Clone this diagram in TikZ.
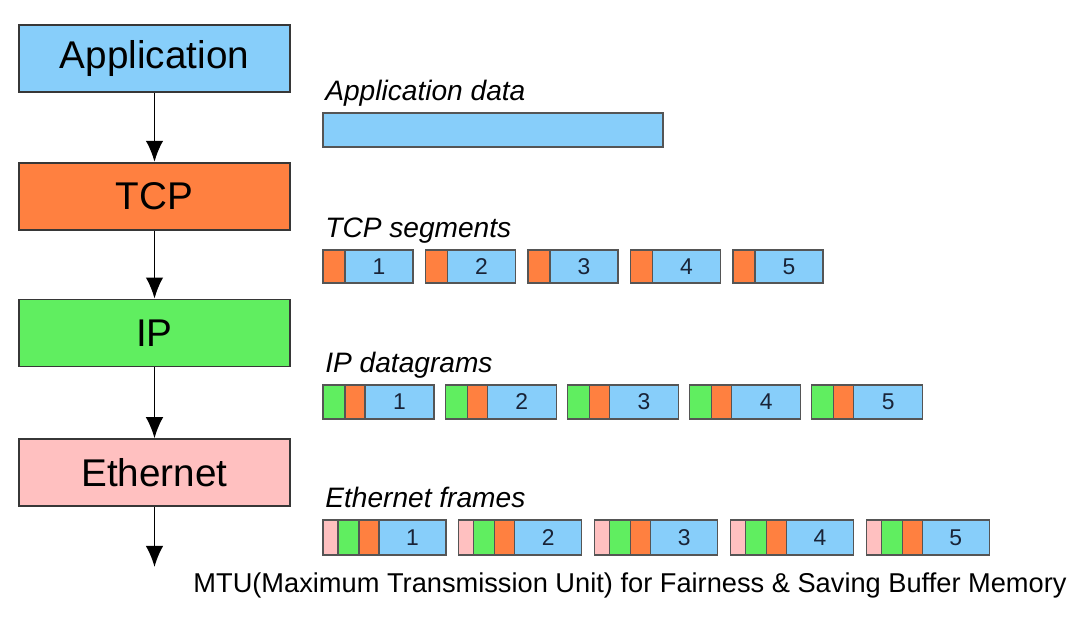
\documentclass[tikz,border=0pt]{standalone}
\usepackage{fontspec}
\setmainfont{Liberation Sans}
\usetikzlibrary{positioning,arrows.meta}
\definecolor{appblue}{RGB}{135,206,250}
\definecolor{tcporange}{RGB}{255,128,64}
\definecolor{ipgreen}{RGB}{96,238,96}
\definecolor{ethpink}{RGB}{255,192,192}
\definecolor{edgegray}{RGB}{55,55,55}
\definecolor{numcolor}{RGB}{25,35,55}
\tikzset{>={Latex[length=12pt,width=10pt]}}
\tikzset{
  layerbox/.style={draw=edgegray, line width=1pt, minimum width=5.42cm,
    minimum height=1.34cm, font=\fontsize{22}{26}\selectfont},
  seg/.style={draw=edgegray!85, line width=0.7pt},
  datalabel/.style={font=\itshape\fontsize{16}{19}\selectfont,
    anchor=base west, inner sep=0pt},
  num/.style={font=\fontsize{13}{15}\selectfont, text=numcolor},
}

\begin{document}
\begin{tikzpicture}[x=0.02cm, y=-0.02cm]
  \useasboundingbox (0,0) rectangle (1082,616);
  % protocol stack
  \node[layerbox, fill=appblue] (app) at (154.5,58.5) {Application};
  \node[layerbox, fill=tcporange, below=1.38cm of app] (tcp) {TCP};
  \node[layerbox, fill=ipgreen, below=1.36cm of tcp] (ip) {IP};
  \node[layerbox, fill=ethpink, below=1.42cm of ip] (eth) {Ethernet};
  \coordinate (out) at (154.5,567);
  \draw[->, line width=1.1pt] (app) -- (tcp);
  \draw[->, line width=1.1pt] (tcp) -- (ip);
  \draw[->, line width=1.1pt] (ip) -- (eth);
  \draw[->, line width=1.1pt] (eth) -- (out);

  % application data
  \node[datalabel] (applabel) at (325,100) {Application data};
  \fill[appblue] (323,113) rectangle (663,147);
  \draw[seg] (323,113) rectangle (663,147);

  % TCP segments
  \node[datalabel] (tcplabel) at (325,237) {TCP segments};
  \foreach \i in {1,...,5} {
    \pgfmathsetmacro{\x}{323+(\i-1)*102.5}
    \fill[tcporange] (\x,250) rectangle ++(22,33);
    \fill[appblue] (\x+22,250) rectangle ++(68,33);
    \draw[seg] (\x+22,250) -- ++(0,33);
    \draw[seg] (\x,250) rectangle ++(90,33);
    \node[num] (seg\i) at (\x+56,266.5) {\i};
  }

  % IP datagrams
  \node[datalabel] (iplabel) at (325,372) {IP datagrams};
  \foreach \i in {1,...,5} {
    \pgfmathsetmacro{\x}{323+(\i-1)*122.2}
    \fill[ipgreen] (\x,385) rectangle ++(22,34);
    \fill[tcporange] (\x+22,385) rectangle ++(20,34);
    \fill[appblue] (\x+42,385) rectangle ++(69,34);
    \draw[seg] (\x+22,385) -- ++(0,34);
    \draw[seg] (\x+42,385) -- ++(0,34);
    \draw[seg] (\x,385) rectangle ++(111,34);
    \node[num] (dgram\i) at (\x+76.5,402) {\i};
  }

  % Ethernet frames
  \node[datalabel] (ethlabel) at (325,507) {Ethernet frames};
  \foreach \i in {1,...,5} {
    \pgfmathsetmacro{\x}{323+(\i-1)*135.8}
    \fill[ethpink] (\x,520) rectangle ++(15,35);
    \fill[ipgreen] (\x+15,520) rectangle ++(21,35);
    \fill[tcporange] (\x+36,520) rectangle ++(20,35);
    \fill[appblue] (\x+56,520) rectangle ++(67,35);
    \draw[seg] (\x+15,520) -- ++(0,35);
    \draw[seg] (\x+36,520) -- ++(0,35);
    \draw[seg] (\x+56,520) -- ++(0,35);
    \draw[seg] (\x,520) rectangle ++(123,35);
    \node[num] (frame\i) at (\x+89.5,537.5) {\i};
  }

  \node[font=\fontsize{15.5}{18}\selectfont, anchor=base] (mtu) at (630,592)
    {MTU(Maximum Transmission Unit) for Fairness \& Saving Buffer Memory};
\end{tikzpicture}
\end{document}
